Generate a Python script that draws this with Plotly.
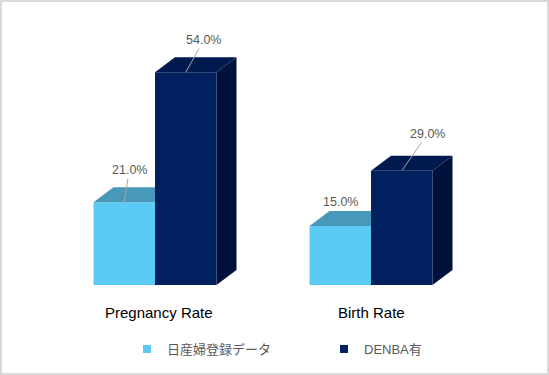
import plotly.graph_objects as go

# ---- data ----
categories = ["Pregnancy Rate", "Birth Rate"]
series_names = ["日産婦登録データ", "DENBA有"]
series_values = [
    [21.0, 15.0],   # 日産婦登録データ
    [54.0, 29.0],   # DENBA有
]

# ---- styling / geometry (not data) ----
front_colors = ["#5BCAF5", "#002060"]
top_colors = ["#4899B9", "#001A50"]
side_colors = ["#3F86A3", "#00123C"]
W_PX, H_PX = 549, 375
px_per_unit_x = 216.0
px_per_pct = 3.94
x0_px = 155.0       # pixel of category 0 center
y0_px = 285.0       # pixel of value 0
bar_w = 61.5 / px_per_unit_x
depth_dx = 20.0 / px_per_unit_x
depth_dy = 15.0 / px_per_pct
label_offsets = [[(5, -32), None], [(18, -32), (26, -37)]]
no_arrow_shift = [[None, 24], [None, None]]
cat_label_shift = [4, 0]

x_range = [-x0_px / px_per_unit_x, (W_PX - x0_px) / px_per_unit_x]
y_range = [-(H_PX - y0_px) / px_per_pct, y0_px / px_per_pct]

fig = go.Figure()
n_series = len(series_values)

for s, (name, vals) in enumerate(zip(series_names, series_values)):
    offset = -bar_w if s == 0 else 0.0
    for i, v in enumerate(vals):
        xl = i + offset
        xr = xl + bar_w
        # is the right neighbour (next series) tall enough to hide the depth faces?
        hidden = (s + 1 < n_series) and series_values[s + 1][i] >= v + depth_dy
        if not hidden:
            fig.add_trace(go.Scatter(
                x=[xr, xr + depth_dx, xr + depth_dx, xr, xr],
                y=[0, depth_dy, v + depth_dy, v, 0],
                fill="toself", fillcolor=side_colors[s], mode="lines",
                line=dict(width=0, color=side_colors[s]),
                showlegend=False, hoverinfo="skip"))
            tx = [xl, xr, xr + depth_dx, xl + depth_dx, xl]
            ty = [v, v, v + depth_dy, v + depth_dy, v]
        else:
            tx = [xl, xr, xr, xl + depth_dx, xl]
            ty = [v, v, v + depth_dy, v + depth_dy, v]
        fig.add_trace(go.Scatter(
            x=tx, y=ty,
            fill="toself", fillcolor=top_colors[s], mode="lines",
            line=dict(width=0, color=top_colors[s]),
            showlegend=False, hoverinfo="skip"))
    # front faces
    fig.add_trace(go.Bar(
        x=list(range(len(categories))), y=vals, width=bar_w, offset=offset,
        marker=dict(color=front_colors[s], line=dict(width=0)),
        showlegend=False, name=name))
    # legend entry
    fig.add_trace(go.Scatter(
        x=[None], y=[None], mode="markers", name=name,
        marker=dict(symbol="square", size=8, color=front_colors[s])))

annotations = []
font_main = "Arial, 'Liberation Sans', 'Noto Sans CJK JP', sans-serif"
for s, vals in enumerate(series_values):
    offset = -bar_w if s == 0 else 0.0
    for i, v in enumerate(vals):
        xc = i + offset + bar_w / 2
        txt = f"{v:.1f}%"
        off = label_offsets[s][i]
        if off is not None:
            annotations.append(dict(
                x=xc, y=v, xref="x", yref="y", text=txt, showarrow=True,
                arrowhead=0, arrowwidth=1, arrowcolor="#A6A6A6",
                ax=off[0], ay=off[1], standoff=0,
                font=dict(size=12.5, color="#595959", family=font_main)))
        else:
            annotations.append(dict(
                x=xc, y=v, xref="x", yref="y", text=txt, showarrow=False,
                yshift=no_arrow_shift[s][i],
                font=dict(size=12.5, color="#595959", family=font_main)))

for i, c in enumerate(categories):
    annotations.append(dict(
        x=i, y=0, xref="x", yref="y", text=c, showarrow=False,
        xshift=cat_label_shift[i], yshift=-27, yanchor="middle",
        font=dict(size=15, color="#000000", family=font_main)))

fig.update_layout(
    width=W_PX, height=H_PX,
    margin=dict(l=0, r=0, t=0, b=0),
    paper_bgcolor="white", plot_bgcolor="white",
    barmode="overlay",
    xaxis=dict(range=x_range, visible=False, fixedrange=True),
    yaxis=dict(range=y_range, visible=False, fixedrange=True),
    annotations=annotations,
    legend=dict(orientation="h", x=127 / W_PX, xanchor="left",
                y=1 - 349 / H_PX, yanchor="middle",
                entrywidth=152, entrywidthmode="pixels",
                font=dict(size=13, color="#595959", family=font_main),
                bgcolor="rgba(0,0,0,0)"),
    shapes=[dict(type="rect", xref="paper", yref="paper",
                 x0=1 / W_PX, x1=1 - 1 / W_PX, y0=1 / H_PX, y1=1 - 1 / H_PX,
                 line=dict(color="#D9D9D9", width=2))],
)

fig.write_html("out.html", config={"displayModeBar": False},
               post_script="document.body.style.margin='0';"
                           "document.body.style.overflow='hidden';")
